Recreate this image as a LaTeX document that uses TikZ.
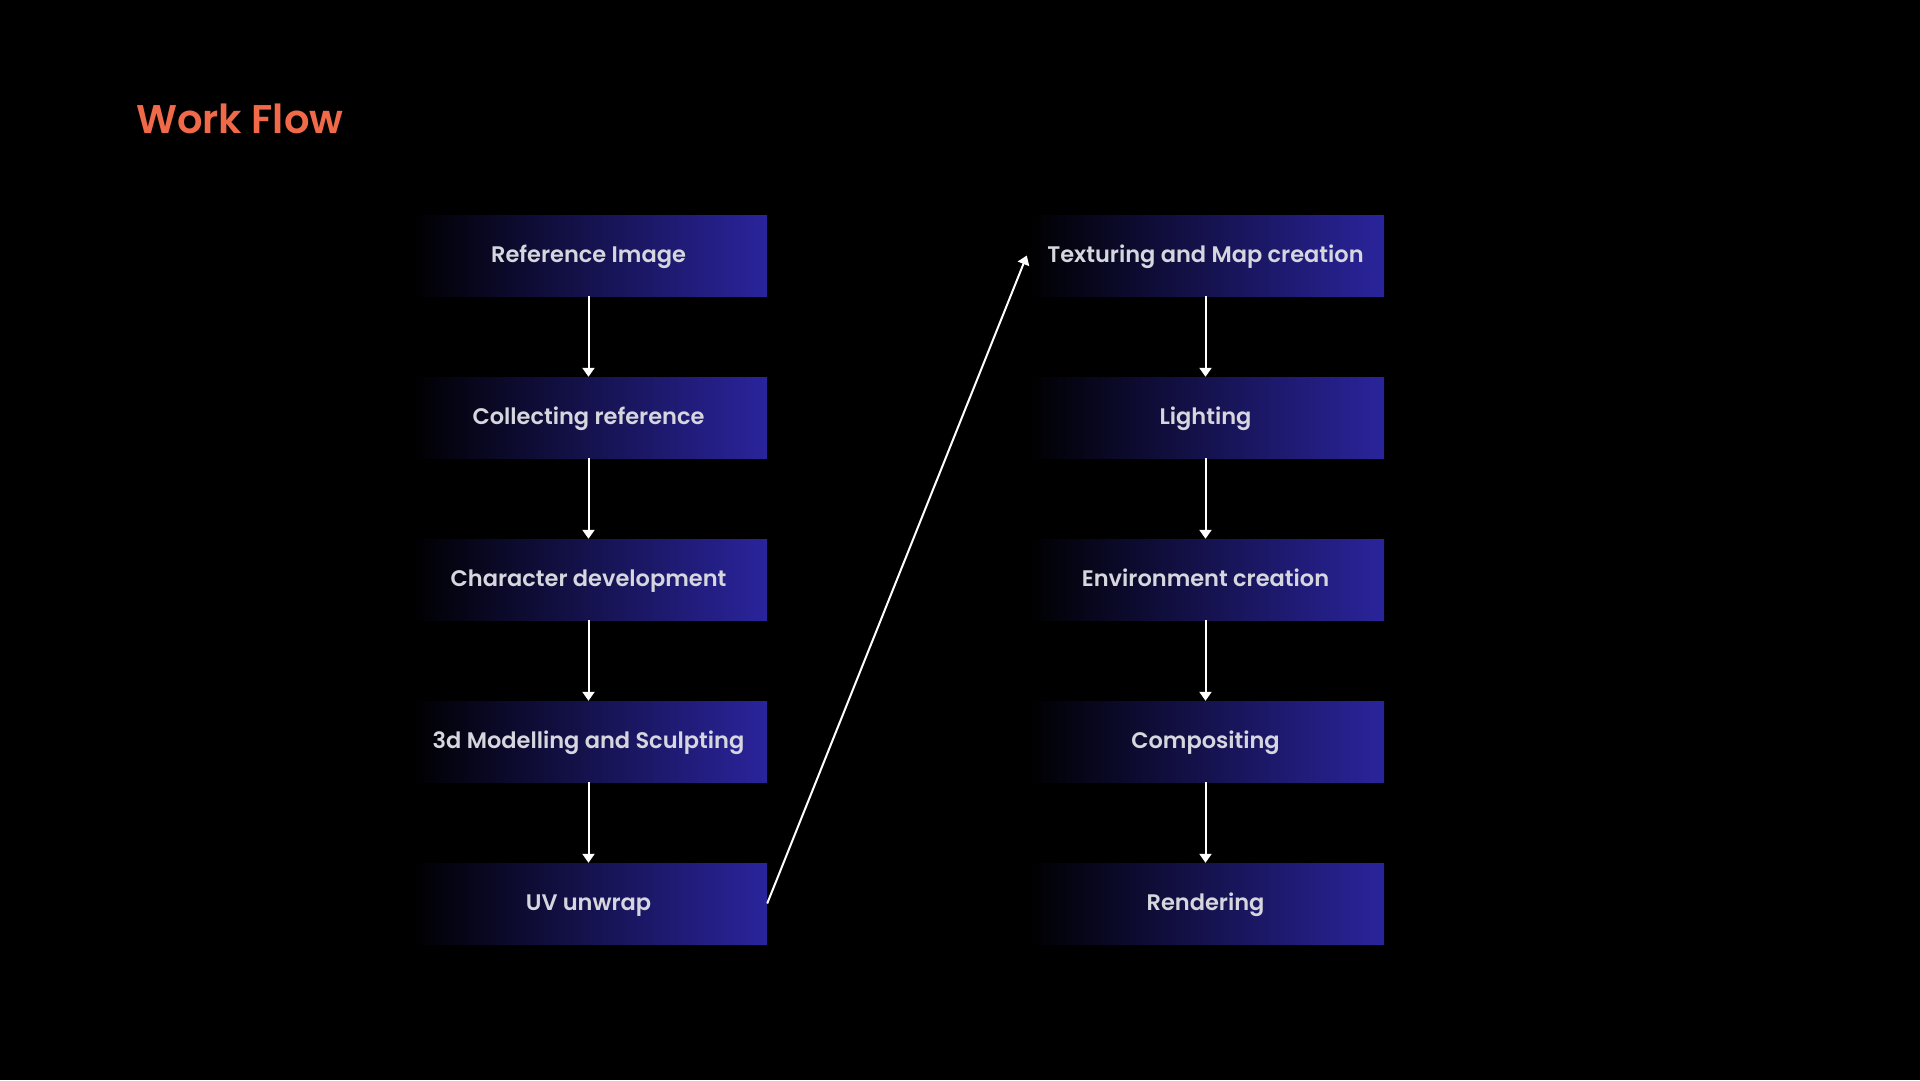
\documentclass[tikz,border=0pt]{standalone}
\usepackage{fontspec}
\setmainfont{Poppins}
\newfontfamily\semib{Poppins SemiBold}
\usetikzlibrary{arrows.meta}
\definecolor{boxblue}{HTML}{2A249C}
\definecolor{boxtext}{HTML}{D6D6DE}
\definecolor{titlecol}{HTML}{F06A4A}
\begin{document}
\begin{tikzpicture}[x=1pt,y=-1pt,
  stepbox/.style={rectangle, minimum width=357pt, minimum height=81pt, inner sep=0pt,
    text height=13pt, text depth=0pt,
    left color=black, right color=boxblue,
    font=\semib\fontsize{22.5}{26}\selectfont, text=boxtext},
  flow/.style={draw=white, line width=2pt, -{Triangle[width=12pt,length=9pt]}}]
\fill[black] (0,0) rectangle (1920,1080);
\useasboundingbox (0,0) rectangle (1920,1080);
\node[anchor=base west, inner sep=0pt, text=titlecol, font=\semib\fontsize{40}{48}\selectfont] (title) at (136,133) {Work Flow};
% left column
\node[stepbox] (a1) at (588.5,255.5) {Reference Image};
\node[stepbox] (a2) at (588.5,417.5) {Collecting reference};
\node[stepbox] (a3) at (588.5,579.5) {Character development};
\node[stepbox] (a4) at (588.5,741.5) {3d Modelling and Sculpting};
\node[stepbox] (a5) at (588.5,903.5) {UV unwrap};
% right column
\node[stepbox] (b1) at (1205.5,255.5) {Texturing and Map creation};
\node[stepbox] (b2) at (1205.5,417.5) {Lighting};
\node[stepbox] (b3) at (1205.5,579.5) {Environment creation};
\node[stepbox] (b4) at (1205.5,741.5) {Compositing};
\node[stepbox] (b5) at (1205.5,903.5) {Rendering};
% connectors
\draw[flow] (a1.south) -- (a2.north);
\draw[flow] (a2.south) -- (a3.north);
\draw[flow] (a3.south) -- (a4.north);
\draw[flow] (a4.south) -- (a5.north);
\draw[flow] (a5.east) -- (b1.west);
\draw[flow] (b1.south) -- (b2.north);
\draw[flow] (b2.south) -- (b3.north);
\draw[flow] (b3.south) -- (b4.north);
\draw[flow] (b4.south) -- (b5.north);
\end{tikzpicture}
\end{document}
